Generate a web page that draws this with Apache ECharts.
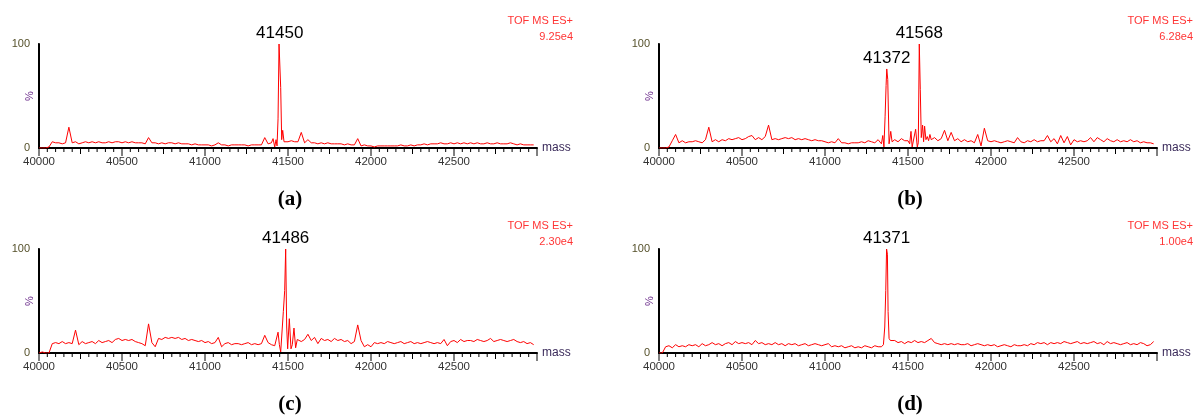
<!DOCTYPE html>
<html>
<head>
    <meta charset="utf-8">
    <title>TOF MS ES+ spectra</title>
    <script src="https://cdn.jsdelivr.net/npm/echarts/dist/echarts.min.js"></script>
</head>
<body style="margin: 0; background: #fff;">
<div id="chart" style="width: 1194px; height: 417px;"></div>

<script>
    // mass axis: one value every 20 Da from 40000
    var massStart = 40000;
    var massStep = 20;
    var massTicks = [40000, 40500, 41000, 41500, 42000, 42500];

    // (a) intensities, %
    var intA = [
        0, 0, 0, 1, 6, 5, 5, 4, 5, 20,
        5, 6, 4, 5, 6, 5, 6, 5, 6, 5,
        5, 6, 5, 6, 6, 5, 6, 5, 6, 5,
        5, 5, 4, 10, 5, 5, 4, 5, 4, 5,
        5, 4, 5, 4, 4, 4, 3, 4, 3, 3,
        3, 3, 2, 3, 5, 3, 3, 2, 3, 3,
        3, 3, 3, 2, 3, 3, 3, 3, 10, 4,
        5, 2, 20, 15, 8, 6, 7, 6, 6, 15,
        5, 8, 5, 5, 4, 5, 4, 5, 4, 4,
        4, 4, 3, 4, 3, 3, 9, 2, 3, 2,
        2, 1, 2, 2, 2, 2, 2, 2, 2, 3,
        2, 2, 3, 2, 3, 3, 4, 3, 4, 4,
        4, 5, 4, 4, 5, 4, 5, 4, 5, 4,
        5, 4, 5, 4, 4, 5, 4, 4, 5, 4,
        4, 4, 5, 4, 3, 4, 3, 3, 3, 3
    ];
    var peakA = [[41400, 5], [41410, 9], [41420, 1], [41428, 8], [41434, 2], [41440, 28], [41446, 100],
        [41450, 100], [41456, 58], [41462, 8], [41468, 17], [41476, 6], [41484, 7]];

    // (b)
    var intB = [
        0, 0, 0, 1, 7, 13, 5, 7, 5, 6,
        6, 7, 6, 5, 8, 20, 6, 8, 6, 8,
        7, 9, 8, 9, 10, 8, 9, 11, 12, 8,
        10, 8, 11, 22, 8, 9, 8, 9, 10, 9,
        10, 8, 9, 8, 9, 8, 7, 8, 7, 7,
        6, 5, 6, 5, 9, 5, 5, 4, 5, 5,
        5, 6, 5, 7, 6, 5, 8, 6, 5, 6,
        6, 8, 6, 9, 7, 5, 5, 9, 16, 1,
        20, 9, 8, 10, 7, 9, 17, 7, 15, 7,
        9, 6, 8, 6, 7, 5, 13, 2, 19, 7,
        6, 7, 6, 5, 6, 7, 6, 5, 10, 6,
        5, 7, 6, 8, 6, 7, 7, 12, 6, 9,
        4, 12, 5, 11, 3, 8, 6, 7, 6, 7,
        10, 6, 10, 8, 6, 9, 7, 6, 8, 6,
        7, 6, 8, 6, 7, 5, 6, 5, 5, 4
    ];
    var peakB1 = [[41340, 4], [41348, 12], [41355, 1], [41362, 30], [41368, 60], [41372, 76], [41378, 66],
        [41386, 4], [41396, 16], [41404, 6]];
    var peakB2 = [[41500, 7], [41510, 4], [41518, 16], [41525, 1], [41532, 2], [41546, 18], [41556, 1],
        [41562, 5], [41568, 100], [41574, 56], [41580, 10], [41588, 22], [41594, 6], [41600, 21],
        [41608, 8], [41616, 11], [41624, 7], [41632, 13], [41640, 8]];

    // (c)
    var intC = [
        0, 1, 0, 0, 9, 10, 9, 11, 9, 10,
        9, 22, 8, 11, 9, 10, 11, 9, 12, 10,
        11, 12, 10, 13, 14, 12, 13, 12, 13, 11,
        10, 9, 7, 28, 10, 6, 14, 13, 15, 14,
        15, 14, 15, 13, 14, 12, 13, 12, 11, 12,
        10, 11, 9, 10, 15, 6, 9, 10, 8, 9,
        9, 8, 9, 10, 8, 9, 8, 9, 17, 10,
        8, 7, 20, 1, 40, 33, 8, 24, 12, 11,
        13, 18, 12, 15, 9, 14, 12, 13, 11, 14,
        12, 13, 11, 12, 9, 11, 27, 12, 6, 8,
        6, 10, 9, 10, 9, 11, 10, 9, 10, 11,
        9, 10, 11, 9, 10, 9, 10, 11, 10, 9,
        10, 9, 13, 7, 11, 12, 10, 13, 11, 12,
        12, 11, 13, 12, 11, 12, 14, 11, 12, 13,
        12, 11, 12, 13, 11, 10, 11, 9, 10, 8
    ];
    var peakC = [[41440, 20], [41448, 8], [41456, 1], [41464, 2], [41472, 40], [41480, 60], [41486, 100],
        [41492, 25], [41498, 4], [41508, 33], [41518, 4], [41526, 8], [41536, 24], [41546, 5], [41556, 13]];

    // (d)
    var intD = [
        0, 0, 6, 7, 5, 8, 6, 7, 6, 8,
        7, 8, 6, 9, 7, 8, 10, 8, 9, 7,
        9, 10, 8, 11, 9, 10, 9, 10, 8, 12,
        9, 10, 8, 9, 8, 10, 8, 9, 7, 9,
        8, 9, 7, 8, 9, 7, 8, 9, 8, 7,
        8, 9, 6, 7, 6, 7, 5, 6, 7, 5,
        6, 5, 7, 6, 5, 7, 6, 6, 6, 6,
        11, 12, 10, 11, 9, 11, 10, 12, 10, 11,
        10, 12, 14, 10, 9, 8, 9, 8, 9, 8,
        9, 8, 8, 9, 7, 8, 9, 8, 7, 8,
        7, 8, 6, 7, 8, 7, 6, 8, 7, 7,
        8, 7, 9, 8, 10, 9, 10, 8, 10, 9,
        10, 9, 11, 10, 9, 10, 11, 9, 10, 9,
        10, 11, 9, 10, 8, 11, 9, 10, 9, 8,
        9, 10, 8, 9, 8, 10, 9, 7, 8, 11
    ];
    var peakD = [[41340, 6], [41352, 8], [41360, 25], [41366, 60], [41371, 100], [41376, 95], [41380, 40],
        [41386, 14], [41394, 12], [41400, 11]];

    var scales = ['9.25e4', '6.28e4', '2.30e4', '1.00e4'];
    var captions = ['(a)', '(b)', '(c)', '(d)'];
    var peakTags = [
        [[41450, 100]],
        [[41372, 76], [41568, 100]],
        [[41486, 100]],
        [[41371, 100]]
    ];

    // regular points, with the finer peak windows put in their place
    function buildSpectrum(values, windows) {
        var pts = [];
        values.forEach(function (v, i) {
            var m = massStart + i * massStep;
            var inside = windows.some(function (w) {
                return m >= w[0][0] && m <= w[w.length - 1][0];
            });
            if (!inside) pts.push([m, v]);
        });
        windows.forEach(function (w) { pts = pts.concat(w); });
        pts.sort(function (p, q) { return p[0] - q[0]; });
        return pts;
    }

    var spectra = [
        buildSpectrum(intA, [peakA]),
        buildSpectrum(intB, [peakB1, peakB2]),
        buildSpectrum(intC, [peakC]),
        buildSpectrum(intD, [peakD])
    ];

    var font = 'Arial, "Liberation Sans", sans-serif';
    var boxes = [[39, 44], [659, 44], [39, 249], [659, 249]];
    var plotW = 498, plotH = 104;
    var grids = [], xAxes = [], yAxes = [], series = [], graphic = [];

    // tick marks drawn as little broken polylines below / left of the axes
    // (the built-in axisTick lines did not show up in the picture)
    function xTickData() {
        var pct = 100 / plotH;          // % per pixel
        var out = [];
        for (var m = 40000; m <= 43000; m += 50) {
            var len = m % 500 === 0 ? 7 : (m % 250 === 0 ? 5 : 3);
            out.push([m, 0], [m, -(len + 1) * pct], [m, '-']);
        }
        return out;
    }
    function yTickData() {
        var da = 3000 / plotW;          // Da per pixel
        var out = [];
        for (var v = 0; v <= 100; v += 10) {
            var len = v % 50 === 0 ? 6 : 3;
            out.push([40000, v], [40000 - (len + 1) * da, v], ['-', v]);
        }
        return out;
    }

    boxes.forEach(function (b, g) {
        grids.push({left: b[0], top: b[1], width: plotW, height: plotH});
        xAxes.push({
            gridIndex: g, type: 'value', min: 40000, max: 43000, interval: 500,
            axisLine: {show: true, lineStyle: {color: '#000', width: 2}},
            axisTick: {show: false},
            axisLabel: {
                margin: 8, fontSize: 11.5, color: '#333', fontFamily: font,
                formatter: function (v) { return massTicks.indexOf(v) >= 0 ? String(v) : ''; }
            },
            splitLine: {show: false},
            name: 'mass', nameLocation: 'end', nameGap: 5,
            nameTextStyle: {fontSize: 12, color: '#3a2a5a', fontFamily: font}
        });
        yAxes.push({
            gridIndex: g, type: 'value', min: 0, max: 100, interval: 50,
            axisLine: {show: true, lineStyle: {color: '#000', width: 2}},
            axisTick: {show: false},
            axisLabel: {
                margin: 9, fontSize: 11, color: '#55502a', fontFamily: font,
                formatter: function (v) { return v === 50 ? '' : String(v); }
            },
            splitLine: {show: false},
            name: '%', nameLocation: 'middle', nameRotate: 90, nameGap: 4, nameMoveOverlap: false,
            nameTextStyle: {fontSize: 11, color: '#6a2a8a', fontFamily: font}
        });
        series.push({
            type: 'line', xAxisIndex: g, yAxisIndex: g,
            data: spectra[g], showSymbol: false, symbol: 'none',
            lineStyle: {color: '#ff0000', width: 1},
            markPoint: {
                symbol: 'circle', symbolSize: 0,
                label: {
                    show: true, position: 'top', distance: 2, fontSize: 17, color: '#000',
                    fontFamily: font, formatter: '{b}'
                },
                data: peakTags[g].map(function (t) {
                    return {name: String(t[0]), coord: t};
                })
            }
        });
        series.push({
            type: 'line', xAxisIndex: g, yAxisIndex: g, data: xTickData(),
            showSymbol: false, symbol: 'none', clip: false, silent: true, connectNulls: false,
            lineStyle: {color: '#000', width: 1}
        });
        series.push({
            type: 'line', xAxisIndex: g, yAxisIndex: g, data: yTickData(),
            showSymbol: false, symbol: 'none', clip: false, silent: true, connectNulls: false,
            lineStyle: {color: '#000', width: 1}
        });
        // instrument tag, top right of each panel
        graphic.push({
            type: 'text', x: b[0] + 534, y: b[1] - 31,
            style: {
                text: 'TOF MS ES+\n' + scales[g], align: 'right', verticalAlign: 'top',
                fill: '#ff3535', font: '11px ' + font, lineHeight: 16
            }
        });
        graphic.push({
            type: 'text', x: b[0] + 251, y: b[1] + 156,
            style: {
                text: captions[g], align: 'center', verticalAlign: 'middle',
                fill: '#000', font: 'bold 21px "Liberation Serif", "Times New Roman", serif'
            }
        });
    });

    var chart = echarts.init(document.getElementById('chart'));
    chart.setOption({
        animation: false,
        grid: grids,
        xAxis: xAxes,
        yAxis: yAxes,
        series: series,
        graphic: graphic
    });
</script>
</body>
</html>
